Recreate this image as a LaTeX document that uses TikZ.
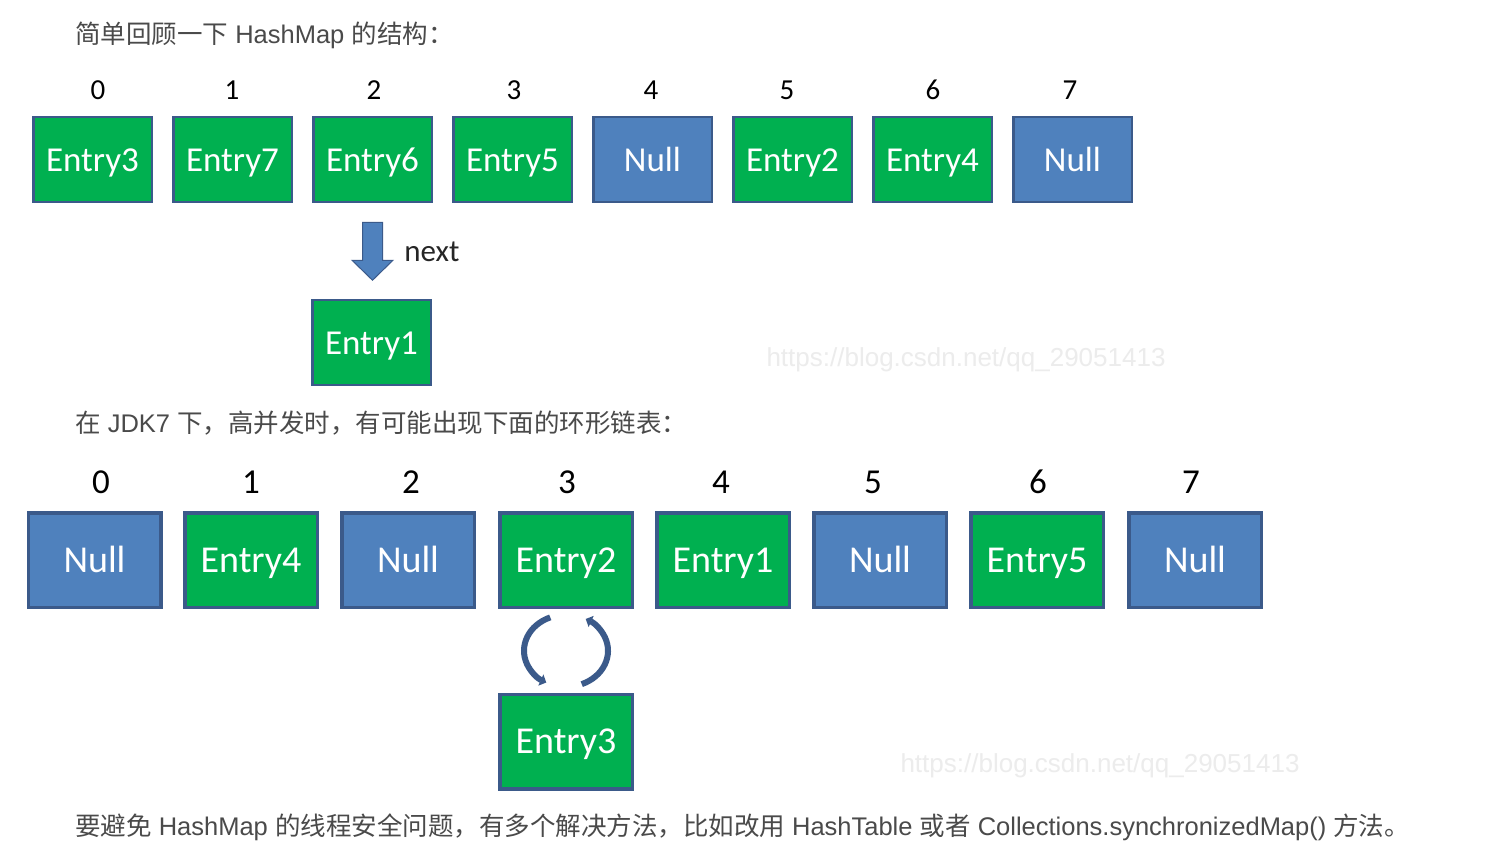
\documentclass[tikz,border=0pt]{standalone}
\usepackage{fontspec}
\setmainfont{Liberation Sans}
\newfontfamily\cjk{Noto Sans CJK SC}
\newfontfamily\calib{Carlito}
\usetikzlibrary{calc,arrows.meta}

\definecolor{boxgreen}{HTML}{00B050}
\definecolor{boxblue}{HTML}{4F81BD}
\definecolor{boxline}{HTML}{3B5A8A}
\definecolor{captext}{HTML}{4A4A4A}
\definecolor{wmgray}{HTML}{ECECEC}

\begin{document}
\begin{tikzpicture}[x=1pt,y=-1pt,
	cell/.style={draw=boxline, line width=2.5pt, minimum width=118.5pt, minimum height=85pt, inner sep=0pt, text height=27pt, text depth=3pt, text=white, font=\calib\fontsize{35}{35}\selectfont},
	bigcell/.style={cell, line width=3.5pt, minimum width=132.5pt, minimum height=94.5pt, font=\calib\fontsize{38}{38}\selectfont},
	idx/.style={font=\calib\fontsize{29}{29}\selectfont},
	bigidx/.style={font=\calib\fontsize{35}{35}\selectfont},
	caption/.style={anchor=west, inner sep=0pt, text=captext, font=\fontsize{25.5}{25.5}\selectfont},
	watermark/.style={text=wmgray, font=\fontsize{26}{26}\selectfont}]
	\useasboundingbox[fill=white] (0,0) rectangle (1485,861);

	\node[caption] (cap1) at (75,35) {{\cjk 简单回顾一下} HashMap {\cjk 的结构：}};

	% first table
	\foreach \lbl/\fillc/\nx [count=\i from 0] in {Entry3/boxgreen/98, Entry7/boxgreen/232, Entry6/boxgreen/374, Entry5/boxgreen/514, Null/boxblue/651, Entry2/boxgreen/787, Entry4/boxgreen/933, Null/boxblue/1070}
	{
		\node[cell, fill=\fillc] (a\i) at (92.5+140*\i,159.5) {\lbl};
		\node[idx] (na\i) at (\nx,90) {\i};
	}
	\node[cell, fill=boxgreen] (a8) at (371.5,342.5) {Entry1};
	\draw[fill=boxblue, draw=boxline, line width=1pt] ($(a2.south)+(-10,19)$) -- ++(20,0) -- ++(0,38) -- ++(10.5,0) -- ++(-20.5,20) -- ++(-20.5,-20) -- ++(10.5,0) -- cycle;
	\node[font=\calib\fontsize{31}{31}\selectfont, text=black!85] (nxt) at (432,252) {next};
	\node[watermark] (wm1) at (966,360) {https://blog.csdn.net/qq\_29051413};

	\node[caption] (cap2) at (75,423) {{\cjk 在} JDK7 {\cjk 下，高并发时，有可能出现下面的环形链表：}};

	% second table
	\foreach \lbl/\fillc/\cx/\nx [count=\i from 0] in {Null/boxblue/94.5/101, Entry4/boxgreen/251/251, Null/boxblue/408/411, Entry2/boxgreen/566/567, Entry1/boxgreen/723/721, Null/boxblue/880/873, Entry5/boxgreen/1037/1038, Null/boxblue/1195/1191}
	{
		\node[bigcell, fill=\fillc] (b\i) at (\cx,560) {\lbl};
		\node[bigidx] (nb\i) at (\nx,482) {\i};
	}
	\node[bigcell, fill=boxgreen] (b8) at (566,741.5) {Entry3};
	\coordinate (ring) at ($(b3.south)!0.5!(b8.north)$);
	\draw[boxline, line width=6pt, -{Triangle[width=12pt,length=6pt]}] ($(ring)+(248:42 and 36)$) arc[start angle=248, end angle=118, x radius=42, y radius=36];
	\draw[boxline, line width=6pt, -{Triangle[width=12pt,length=6pt]}] ($(ring)+(68:42 and 36)$) arc[start angle=68, end angle=-62, x radius=42, y radius=36];
	\node[watermark] (wm2) at (1100,766) {https://blog.csdn.net/qq\_29051413};

	\node[caption] (cap3) at (75,827) {{\cjk 要避免} HashMap {\cjk 的线程安全问题，有多个解决方法，比如改用} HashTable {\cjk 或者} Collections.synchronizedMap() {\cjk 方法。}};
\end{tikzpicture}
\end{document}
